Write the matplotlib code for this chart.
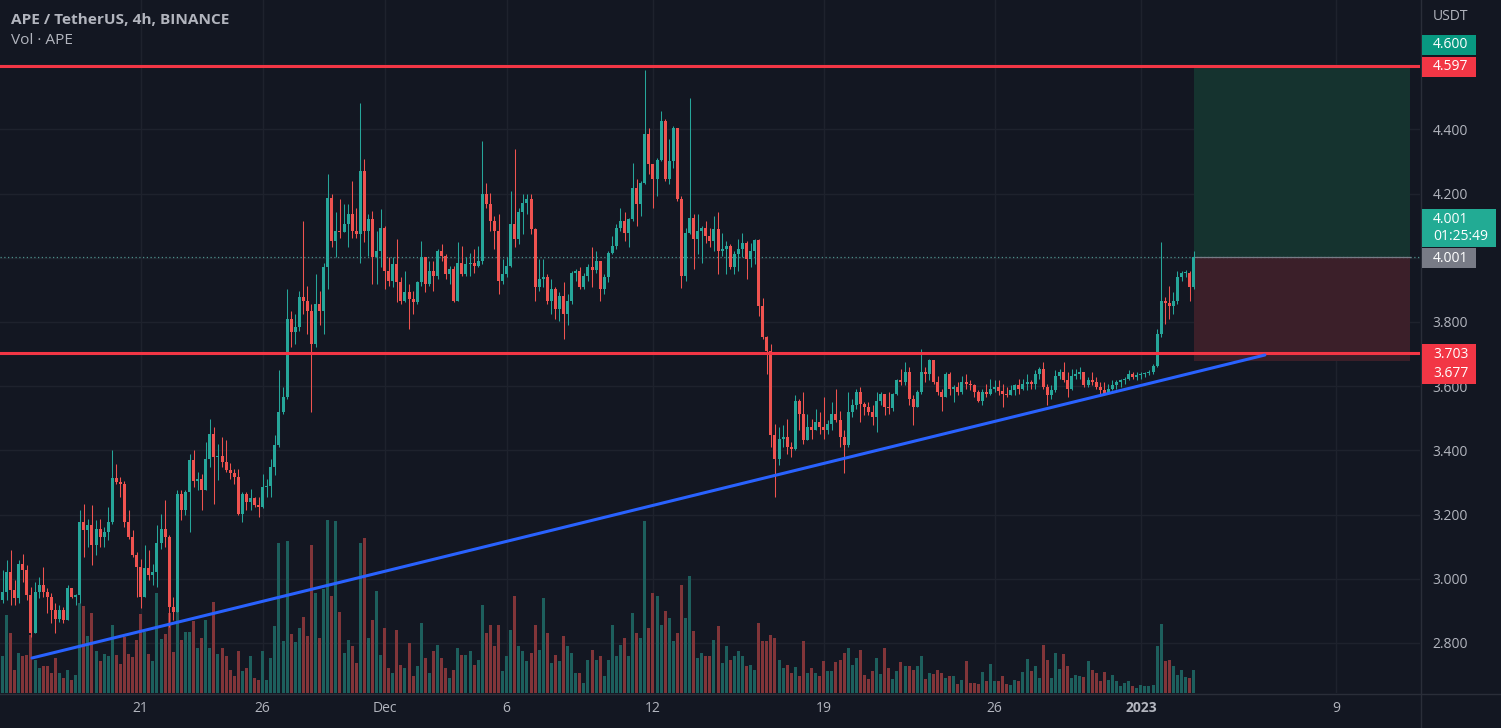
import matplotlib
matplotlib.use("Agg")
import matplotlib.pyplot as plt
from matplotlib.patches import Rectangle
from matplotlib.lines import Line2D
from matplotlib.transforms import blended_transform_factory
import numpy as np
import pandas as pd

# ---------------------------------------------------------------- data
start_time = "2022-11-15 08:00"   # first 4h candle
bar_hours = 4
first_open = 2.933

closes = [
    2.959, 3.021, 2.965, 2.939, 3.047, 3.027, 2.949, 2.830, 2.959, 2.980,
    2.959, 2.944, 2.902, 2.876, 2.902, 2.871, 2.970, 2.944, 2.948, 3.177,
    3.151, 3.167, 3.104, 3.156, 3.130, 3.146, 3.177, 3.315, 3.301, 3.296,
    3.177, 3.130, 3.073, 3.037, 2.944, 3.032, 3.011, 3.021, 3.110, 3.156,
    3.130, 2.913, 2.897, 3.265, 3.213, 3.270, 3.369, 3.306, 3.312, 3.276,
    3.374, 3.452, 3.379, 3.381, 3.364, 3.338, 3.330, 3.317, 3.203, 3.265,
    3.239, 3.250, 3.229, 3.224, 3.286, 3.288, 3.348, 3.416, 3.519, 3.566,
    3.809, 3.768, 3.783, 3.877, 3.866, 3.835, 3.732, 3.856, 3.835, 3.970,
    4.187, 4.053, 4.084, 4.079, 4.105, 4.136, 4.084, 4.073, 4.270, 4.084,
    4.120, 4.001, 4.022, 4.094, 3.959, 3.928, 3.980, 3.923, 3.866, 3.892,
    3.871, 3.861, 3.923, 4.001, 3.918, 3.959, 3.944, 4.022, 4.006, 3.949,
    3.965, 3.866, 3.985, 3.949, 3.980, 3.985, 3.975, 3.991, 4.198, 4.167,
    4.115, 4.084, 3.928, 3.949, 3.975, 4.105, 4.058, 4.141, 4.172, 4.182,
    4.089, 3.908, 3.934, 3.939, 3.866, 3.903, 3.840, 3.882, 3.825, 3.866,
    3.954, 3.959, 3.908, 3.944, 3.970, 3.962, 3.991, 3.902, 3.939, 4.016,
    4.037, 4.094, 4.115, 4.078, 4.120, 4.218, 4.167, 4.234, 4.384, 4.291,
    4.244, 4.306, 4.426, 4.244, 4.301, 4.405, 4.182, 3.944, 4.078, 4.125,
    4.058, 4.084, 4.094, 4.068, 4.053, 4.089, 4.021, 4.027, 4.037, 3.970,
    4.011, 4.027, 4.047, 3.996, 4.021, 4.055, 3.851, 3.752, 3.711, 3.447,
    3.374, 3.436, 3.441, 3.410, 3.405, 3.555, 3.514, 3.431, 3.473, 3.462,
    3.488, 3.473, 3.462, 3.483, 3.514, 3.493, 3.441, 3.416, 3.519, 3.540,
    3.581, 3.545, 3.535, 3.519, 3.504, 3.555, 3.576, 3.535, 3.532, 3.576,
    3.618, 3.612, 3.643, 3.561, 3.535, 3.581, 3.643, 3.638, 3.680, 3.612,
    3.581, 3.566, 3.638, 3.592, 3.597, 3.581, 3.612, 3.607, 3.602, 3.581,
    3.555, 3.581, 3.576, 3.592, 3.597, 3.585, 3.576, 3.571, 3.589, 3.602, 3.592,
    3.607, 3.613, 3.607, 3.639, 3.654, 3.597, 3.571, 3.587, 3.633, 3.644,
    3.618, 3.592, 3.633, 3.639, 3.644, 3.602, 3.618, 3.613, 3.597, 3.587,
    3.576, 3.592, 3.602, 3.613, 3.618, 3.623, 3.639, 3.628, 3.636, 3.639,
    3.641, 3.644, 3.664, 3.763, 3.866, 3.858, 3.851, 3.866, 3.939, 3.951,
    3.954, 3.908, 4.001,
]

highs = [
    3.027, 3.058, 3.089, 2.996, 3.058, 3.076, 3.042, 2.975, 2.990, 3.006,
    3.037, 2.970, 2.954, 2.923, 2.918, 2.913, 2.980, 2.970, 2.952, 3.213,
    3.234, 3.187, 3.229, 3.182, 3.187, 3.161, 3.223, 3.400, 3.358, 3.317,
    3.306, 3.213, 3.151, 3.084, 3.063, 3.104, 3.089, 3.047, 3.167, 3.203,
    3.244, 3.135, 2.944, 3.275, 3.275, 3.275, 3.389, 3.400, 3.333, 3.327,
    3.426, 3.498, 3.473, 3.421, 3.442, 3.431, 3.359, 3.343, 3.343, 3.271,
    3.271, 3.281, 3.255, 3.255, 3.327, 3.312, 3.374, 3.447, 3.649, 3.597,
    3.903, 3.835, 3.825, 3.897, 4.115, 3.913, 3.856, 3.949, 3.897, 3.985,
    4.260, 4.198, 4.141, 4.182, 4.167, 4.167, 4.239, 4.156, 4.483, 4.307,
    4.136, 4.146, 4.084, 4.151, 4.099, 4.001, 4.001, 4.058, 3.939, 3.959,
    3.918, 3.897, 3.928, 4.053, 4.001, 3.991, 3.991, 4.027, 4.042, 4.011,
    3.975, 3.975, 4.048, 4.037, 4.001, 4.016, 4.027, 4.037, 4.364, 4.234,
    4.203, 4.130, 4.136, 3.996, 4.001, 4.208, 4.338, 4.156, 4.198, 4.198,
    4.198, 4.094, 3.996, 3.996, 3.949, 3.934, 3.908, 3.892, 3.923, 3.887,
    3.959, 3.965, 3.970, 3.954, 3.980, 4.032, 4.022, 3.990, 3.949, 4.021,
    4.068, 4.104, 4.156, 4.141, 4.125, 4.296, 4.244, 4.239, 4.586, 4.405,
    4.291, 4.312, 4.457, 4.431, 4.369, 4.410, 4.405, 4.192, 4.094, 4.498,
    4.135, 4.135, 4.099, 4.115, 4.094, 4.130, 4.141, 4.078, 4.053, 4.042,
    4.021, 4.058, 4.078, 4.053, 4.047, 4.058, 4.058, 3.876, 3.757, 3.731,
    3.483, 3.473, 3.478, 3.498, 3.426, 3.571, 3.561, 3.581, 3.514, 3.498,
    3.530, 3.519, 3.566, 3.493, 3.550, 3.592, 3.524, 3.462, 3.581, 3.561,
    3.592, 3.597, 3.550, 3.550, 3.540, 3.581, 3.581, 3.571, 3.581, 3.578,
    3.623, 3.654, 3.675, 3.659, 3.571, 3.587, 3.716, 3.659, 3.685, 3.680,
    3.633, 3.592, 3.643, 3.643, 3.602, 3.612, 3.633, 3.638, 3.618, 3.607,
    3.587, 3.592, 3.607, 3.623, 3.618, 3.618, 3.607, 3.597, 3.602, 3.607, 3.623,
    3.623, 3.639, 3.618, 3.649, 3.659, 3.675, 3.607, 3.602, 3.649, 3.654,
    3.675, 3.644, 3.654, 3.654, 3.659, 3.644, 3.628, 3.644, 3.628, 3.613,
    3.613, 3.607, 3.618, 3.618, 3.623, 3.628, 3.649, 3.644, 3.644, 3.644,
    3.645, 3.649, 3.670, 3.778, 4.048, 3.877, 3.913, 3.892, 3.960, 3.960,
    3.962, 3.960, 4.022,
]

lows = [
    2.923, 2.933, 2.918, 2.918, 2.923, 2.990, 2.933, 2.819, 2.830, 2.939,
    2.944, 2.892, 2.861, 2.830, 2.866, 2.861, 2.871, 2.939, 2.918, 2.923,
    3.068, 3.099, 3.042, 3.073, 3.099, 3.099, 3.120, 3.172, 3.296, 3.255,
    3.161, 3.125, 3.068, 2.944, 2.908, 2.944, 2.996, 2.980, 2.975, 3.094,
    3.099, 2.851, 2.871, 2.897, 3.182, 3.198, 3.146, 3.286, 3.276, 3.214,
    3.276, 3.348, 3.234, 3.307, 3.348, 3.333, 3.312, 3.296, 3.198, 3.177,
    3.214, 3.214, 3.224, 3.193, 3.219, 3.255, 3.255, 3.322, 3.410, 3.514,
    3.561, 3.721, 3.732, 3.773, 3.825, 3.763, 3.519, 3.721, 3.789, 3.763,
    3.903, 4.032, 4.001, 4.063, 4.079, 4.032, 4.063, 4.063, 3.985, 4.048,
    4.006, 3.918, 3.918, 3.970, 3.903, 3.913, 3.908, 3.861, 3.856, 3.861,
    3.778, 3.825, 3.856, 3.913, 3.892, 3.913, 3.897, 3.934, 3.991, 3.934,
    3.918, 3.861, 3.866, 3.944, 3.944, 3.944, 3.954, 3.970, 3.980, 4.156,
    4.084, 4.027, 3.887, 3.918, 3.939, 3.970, 4.032, 4.042, 4.073, 4.136,
    4.073, 3.866, 3.897, 3.908, 3.856, 3.825, 3.809, 3.804, 3.747, 3.789,
    3.856, 3.928, 3.903, 3.903, 3.928, 3.908, 3.954, 3.866, 3.887, 3.923,
    4.011, 4.027, 4.084, 4.053, 4.032, 4.115, 4.099, 4.130, 4.229, 4.260,
    4.156, 4.192, 4.301, 4.239, 4.229, 4.280, 4.177, 3.907, 3.928, 4.073,
    3.965, 4.011, 3.985, 4.047, 4.032, 4.021, 3.949, 4.006, 3.949, 3.965,
    3.949, 3.959, 4.001, 3.933, 3.970, 3.980, 3.819, 3.747, 3.638, 3.410,
    3.255, 3.353, 3.410, 3.390, 3.379, 3.400, 3.462, 3.421, 3.431, 3.436,
    3.462, 3.452, 3.436, 3.452, 3.462, 3.488, 3.410, 3.328, 3.410, 3.504,
    3.530, 3.488, 3.509, 3.509, 3.478, 3.457, 3.540, 3.509, 3.514, 3.524,
    3.571, 3.602, 3.602, 3.540, 3.478, 3.535, 3.576, 3.612, 3.618, 3.607,
    3.571, 3.524, 3.571, 3.571, 3.550, 3.571, 3.576, 3.592, 3.587, 3.566,
    3.550, 3.540, 3.566, 3.571, 3.581, 3.571, 3.535, 3.566, 3.571, 3.571, 3.576,
    3.587, 3.587, 3.592, 3.592, 3.623, 3.592, 3.540, 3.561, 3.582, 3.623,
    3.613, 3.566, 3.587, 3.623, 3.623, 3.597, 3.597, 3.602, 3.592, 3.576,
    3.571, 3.576, 3.587, 3.592, 3.597, 3.607, 3.618, 3.623, 3.620, 3.623,
    3.628, 3.636, 3.639, 3.659, 3.752, 3.794, 3.809, 3.825, 3.856, 3.929,
    3.939, 3.866, 3.903,
]

volume_10k = [
    37, 78, 60, 23, 40, 37, 38, 58, 33, 25,
    27, 27, 20, 35, 20, 15, 23, 13, 18, 90,
    87, 57, 80, 42, 32, 39, 37, 68, 38, 29,
    56, 39, 36, 53, 79, 61, 39, 32, 100, 54,
    59, 80, 41, 85, 53, 61, 61, 72, 45, 55,
    73, 45, 91, 39, 45, 37, 23, 17, 42, 22,
    25, 37, 15, 13, 42, 13, 35, 67, 150, 52,
    152, 59, 51, 65, 76, 57, 148, 100, 55, 104,
    173, 97, 172, 81, 40, 53, 47, 30, 150, 155,
    55, 73, 102, 38, 65, 25, 20, 63, 28, 25,
    50, 17, 27, 70, 35, 20, 42, 48, 35, 25,
    15, 23, 45, 38, 38, 42, 28, 33, 88, 60,
    68, 47, 68, 22, 37, 63, 97, 47, 42, 32,
    40, 68, 43, 95, 60, 30, 38, 32, 57, 47,
    40, 20, 20, 10, 33, 43, 33, 37, 17, 33,
    68, 37, 48, 55, 37, 80, 60, 55, 172, 65,
    100, 97, 68, 82, 75, 52, 60, 108, 75, 117,
    62, 35, 40, 37, 37, 53, 67, 30, 47, 33,
    37, 42, 37, 27, 28, 23, 70, 52, 52, 58,
    55, 33, 25, 28, 20, 26, 17, 52, 20, 25,
    20, 17, 32, 22, 22, 31, 33, 40, 45, 28,
    35, 43, 18, 14, 22, 35, 19, 45, 25, 14,
    22, 31, 27, 27, 23, 27, 37, 14, 20, 19,
    23, 20, 15, 17, 17, 9, 13, 32, 10, 10,
    9, 21, 12, 29, 12, 12, 17, 9, 8, 13,
    12, 21, 34, 22, 27, 15, 48, 33, 15, 40,
    24, 39, 27, 15, 18, 17, 16, 32, 23, 20,
    12, 21, 13, 18, 12, 7, 10, 12, 7, 5,
    8, 7, 7, 8, 47, 69, 32, 33, 27, 18,
    23, 16, 15, 23,
]

price_ticks = [2.8, 3.0, 3.2, 3.4, 3.6, 3.8, 4.0, 4.2, 4.4, 4.6]
date_tick_dates = ["2022-11-21", "2022-11-26", "2022-12-01", "2022-12-06", "2022-12-12",
                   "2022-12-19", "2022-12-26", "2023-01-01", "2023-01-09"]
date_tick_labels = ["21", "26", "Dec", "6", "12", "19", "26", "2023", "9"]

resistance_levels = [4.597, 3.703]
trend_times = ["2022-11-16 13:00", "2023-01-06 02:00"]
trend_prices = [2.753, 3.697]
position_times = ["2023-01-03 04:00", "2023-01-12 01:00"]
position_entry, position_target, position_stop = 4.001, 4.600, 3.677
last_price = 4.001
countdown = "01:25:49"
title = "APE / TetherUS, 4h, BINANCE"
subtitle = "Vol · APE"
currency = "USDT"

# ---------------------------------------------------------------- style
W, H = 1501, 728
BG = "#131722"
GRID = "#1e222d"
SEP = "#2a2e39"
TXT = "#b2b5be"
UP, DN = "#26a69a", "#ef5350"
UPV, DNV = "#1d5f5d", "#813539"
RED_LINE = "#f23645"
BLUE = "#2962ff"
FS = 10

PLOT_R = 1420      # right edge of plot area (px)
PLOT_B = 693       # bottom edge of plot area (px)
PX_PER_BAR = 4.0656
X0 = 2.5           # px position of bar 0
Y_TOP, Y_BOT = 4.803, 2.644

plt.rcParams['font.family'] = ['Open Sans', 'DejaVu Sans']

n = min(len(closes), len(highs), len(lows), len(volume_10k))
c = np.array(closes[:n])
o = np.concatenate([[first_open], c[:-1]])
hi = np.maximum(np.array(highs[:n]), np.maximum(o, c))
lo = np.minimum(np.array(lows[:n]), np.minimum(o, c))
vol = np.array(volume_10k[:n])
idx = np.arange(n)
up = c >= o

t0 = pd.Timestamp(start_time)
def t2i(t):
    return (pd.Timestamp(t) - t0) / pd.Timedelta(hours=bar_hours)

def fx(px):
    return px / W
def fy(py):
    return 1 - py / H

fig = plt.figure(figsize=(W / 100, H / 100), dpi=100)
fig.patch.set_facecolor(BG)
rect = [0, (H - PLOT_B) / H, PLOT_R / W, PLOT_B / H]
axv = fig.add_axes(rect)
ax = fig.add_axes(rect, sharex=axv)
axv.set_facecolor(BG)
ax.set_facecolor("none")

xlim = (-X0 / PX_PER_BAR, (PLOT_R - X0) / PX_PER_BAR)
axv.set_xlim(*xlim)
ax.set_ylim(Y_BOT, Y_TOP)
axv.set_ylim(0, PLOT_B)

for a in (ax, axv):
    for s in a.spines.values():
        s.set_visible(False)

# grid (on the bottom axes so it sits behind volume and candles)
tick_idx = [t2i(d) for d in date_tick_dates]
blend = blended_transform_factory(axv.transAxes, ax.transData)
for p in price_ticks:
    axv.plot([0, 1], [p, p], transform=blend, color=GRID, lw=1, zorder=0)
for ti in tick_idx:
    axv.axvline(ti, color=GRID, lw=1, zorder=0)

# volume
bw = 3.0 / PX_PER_BAR
axv.bar(idx, vol, width=bw, color=np.where(up, UPV, DNV), linewidth=0, zorder=2)
axv.tick_params(left=False, labelleft=False, bottom=False, labelbottom=False)

# candles
ccol = np.where(up, UP, DN)
ax.vlines(idx, lo, hi, colors=ccol, linewidth=0.75, zorder=3)
body = np.maximum(np.abs(c - o), 0.0032)
ax.bar(idx, body, bottom=np.minimum(o, c), width=bw, color=ccol, linewidth=0, zorder=4)

# current price dotted line
ax.axhline(last_price, color="#4c8f8a", lw=0.9, ls=(0, (1, 2)), zorder=2)

# position (long) tool
px0, px1 = t2i(position_times[0]), t2i(position_times[1])
ax.add_patch(Rectangle((px0, position_entry), px1 - px0, position_target - position_entry,
                       facecolor="#15332f", edgecolor="none", zorder=1))
ax.add_patch(Rectangle((px0, position_stop), px1 - px0, position_entry - position_stop,
                       facecolor="#3b1f29", edgecolor="none", zorder=1))
ax.plot([px0, px1], [position_entry, position_entry], color="#787b86", lw=0.9, zorder=2)

# horizontal levels and trendline
for lvl in resistance_levels:
    ax.axhline(lvl, color=RED_LINE, lw=2.2, zorder=6)
ax.plot([t2i(t) for t in trend_times], trend_prices, color=BLUE, lw=2.2,
        solid_capstyle="round", zorder=6)

# axes ticks
ax.yaxis.tick_right()
ax.set_yticks(price_ticks)
ax.set_yticklabels([f"{p:.3f}" for p in price_ticks])
ax.tick_params(axis="y", length=0, pad=9, labelsize=FS, labelcolor=TXT)
ax.set_xticks(tick_idx)
ax.set_xticklabels(date_tick_labels)
ax.tick_params(axis="x", length=0, pad=6, labelsize=FS, labelcolor=TXT)
for lab in ax.get_xticklabels():
    if lab.get_text() == "2023":
        lab.set_fontweight("bold")
ax.set_xlim(*xlim)

# separators
fig.add_artist(Line2D([fx(PLOT_R + 0.5)] * 2, [0, 1], transform=fig.transFigure, color=SEP, lw=1))
fig.add_artist(Line2D([0, 1], [fy(PLOT_B + 0.5)] * 2, transform=fig.transFigure, color=SEP, lw=1))

# price-scale badges
def badge(y0, y1, color, lines, x1=1476):
    fig.add_artist(Rectangle((fx(1422), fy(y1)), fx(x1) - fx(1422), fy(y0) - fy(y1),
                             transform=fig.transFigure, facecolor=color, edgecolor="none",
                             zorder=5))
    for yy, s in lines:
        fig.text(fx(1433), fy(yy), s, color="white", fontsize=FS, va="center",
                 ha="left", zorder=6)

badge(35, 55, "#089981", [(45, f"{position_target:.3f}")])
badge(57, 77, RED_LINE, [(67, f"{resistance_levels[0]:.3f}")])
badge(209, 247, "#22ab94", [(219, f"{last_price:.3f}"), (237, countdown)], x1=1496)
badge(248, 268, "#787b86", [(258, f"{position_entry:.3f}")])
badge(344, 384, RED_LINE, [(354, f"{resistance_levels[1]:.3f}"), (374, f"{position_stop:.3f}")])

fig.text(fx(1433), fy(16), currency, color=TXT, fontsize=FS, va="center", ha="left")

# header
fig.text(fx(11), fy(20), title, color=TXT, fontsize=11.1, fontweight="bold", va="center", ha="left")
fig.text(fx(11), fy(41), subtitle, color=TXT, fontsize=11.1, va="center", ha="left")

fig.savefig("out.png", dpi=100, facecolor=BG)
